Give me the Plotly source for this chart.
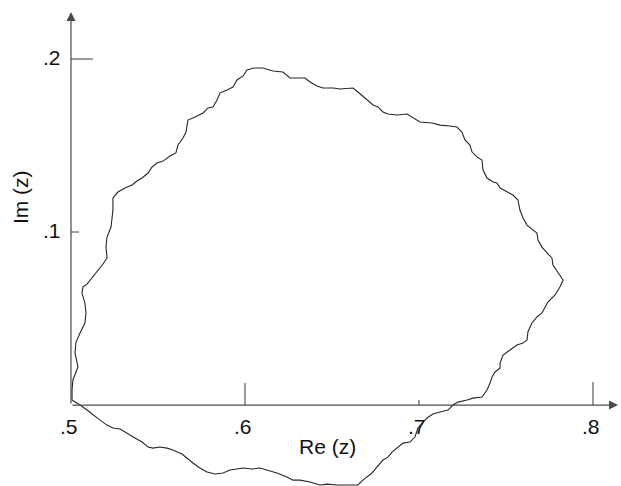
import plotly.graph_objects as go

# Boundary curve in the complex plane, traced counter-clockwise from z ~ 0.5
re_z = [
    0.5006, 0.5006, 0.5011, 0.5040, 0.5023, 0.5029, 0.5052, 0.5080, 0.5086, 0.5080,
    0.5063, 0.5069, 0.5092, 0.5121, 0.5155, 0.5184, 0.5207, 0.5201, 0.5207, 0.5230,
    0.5236, 0.5241, 0.5241, 0.5270, 0.5310, 0.5351, 0.5379, 0.5408, 0.5443, 0.5466,
    0.5494, 0.5529, 0.5569, 0.5603, 0.5615, 0.5644, 0.5661, 0.5672, 0.5713, 0.5759,
    0.5787, 0.5816, 0.5839, 0.5856, 0.5897, 0.5931, 0.5954, 0.5989, 0.6011, 0.6052,
    0.6103, 0.6161, 0.6218, 0.6259, 0.6299, 0.6345, 0.6374, 0.6414, 0.6448, 0.6506,
    0.6546, 0.6621, 0.6649, 0.6690, 0.6736, 0.6764, 0.6793, 0.6822, 0.6874, 0.6931,
    0.6966, 0.7006, 0.7075, 0.7121, 0.7178, 0.7218, 0.7247, 0.7264, 0.7293, 0.7305,
    0.7333, 0.7362, 0.7368, 0.7391, 0.7425, 0.7448, 0.7466, 0.7506, 0.7540, 0.7569,
    0.7580, 0.7598, 0.7621, 0.7655, 0.7678, 0.7684, 0.7707, 0.7736, 0.7764, 0.7770,
    0.7799, 0.7828, 0.7810, 0.7782, 0.7741, 0.7724, 0.7707, 0.7678, 0.7649, 0.7626,
    0.7621, 0.7598, 0.7563, 0.7523, 0.7483, 0.7466, 0.7466, 0.7437, 0.7420, 0.7408,
    0.7391, 0.7362, 0.7310, 0.7276, 0.7224, 0.7195, 0.7167, 0.7121, 0.7080, 0.7046,
    0.7023, 0.6994, 0.6977, 0.6948, 0.6908, 0.6874, 0.6845, 0.6822, 0.6793, 0.6759,
    0.6730, 0.6678, 0.6649, 0.6603, 0.6529, 0.6471, 0.6431, 0.6374, 0.6316, 0.6276,
    0.6241, 0.6184, 0.6126, 0.6086, 0.6040, 0.5989, 0.5954, 0.5914, 0.5874, 0.5828,
    0.5782, 0.5741, 0.5701, 0.5667, 0.5638, 0.5586, 0.5552, 0.5511, 0.5471, 0.5443,
    0.5408, 0.5368, 0.5322, 0.5282, 0.5241, 0.5207, 0.5167, 0.5126, 0.5092, 0.5052,
    0.5006,
]
im_z = [
    0.0029, 0.0087, 0.0145, 0.0220, 0.0301, 0.0364, 0.0416, 0.0474, 0.0532, 0.0590,
    0.0647, 0.0682, 0.0699, 0.0734, 0.0780, 0.0815, 0.0850, 0.0913, 0.0971, 0.1029,
    0.1081, 0.1127, 0.1197, 0.1231, 0.1254, 0.1272, 0.1295, 0.1312, 0.1341, 0.1376,
    0.1399, 0.1410, 0.1439, 0.1457, 0.1503, 0.1543, 0.1578, 0.1647, 0.1665, 0.1688,
    0.1717, 0.1723, 0.1763, 0.1803, 0.1821, 0.1838, 0.1879, 0.1902, 0.1936, 0.1948,
    0.1948, 0.1931, 0.1925, 0.1890, 0.1890, 0.1890, 0.1867, 0.1844, 0.1832, 0.1832,
    0.1827, 0.1832, 0.1809, 0.1775, 0.1734, 0.1723, 0.1694, 0.1682, 0.1676, 0.1682,
    0.1659, 0.1636, 0.1630, 0.1618, 0.1613, 0.1607, 0.1578, 0.1532, 0.1503, 0.1462,
    0.1434, 0.1416, 0.1358, 0.1312, 0.1289, 0.1283, 0.1254, 0.1231, 0.1214, 0.1185,
    0.1127, 0.1081, 0.1040, 0.1012, 0.0994, 0.0954, 0.0913, 0.0879, 0.0850, 0.0809,
    0.0763, 0.0723, 0.0682, 0.0636, 0.0595, 0.0561, 0.0532, 0.0509, 0.0474, 0.0422,
    0.0376, 0.0358, 0.0347, 0.0318, 0.0289, 0.0243, 0.0214, 0.0191, 0.0162, 0.0127,
    0.0087, 0.0046, 0.0040, 0.0029, 0.0017, 0.0000, -0.0029, -0.0040, -0.0052, -0.0075,
    -0.0098, -0.0133, -0.0185, -0.0214, -0.0220, -0.0249, -0.0272, -0.0301, -0.0318, -0.0358,
    -0.0393, -0.0434, -0.0462, -0.0462, -0.0462, -0.0457, -0.0462, -0.0445, -0.0434, -0.0434,
    -0.0416, -0.0393, -0.0376, -0.0364, -0.0370, -0.0364, -0.0370, -0.0376, -0.0393, -0.0399,
    -0.0387, -0.0364, -0.0335, -0.0306, -0.0283, -0.0260, -0.0249, -0.0243, -0.0249, -0.0243,
    -0.0214, -0.0191, -0.0162, -0.0139, -0.0133, -0.0116, -0.0087, -0.0058, -0.0029, 0.0000,
    0.0029,
]

# Axis ticks and their labels
x_ticks = [0.5, 0.6, 0.7, 0.8]
x_tick_labels = [".5", ".6", ".7", ".8"]
y_ticks = [0.1, 0.2]
y_tick_labels = [".1", ".2"]

# Axis extents (ends of the arrows)
x_axis_end = 0.8144
y_axis_end = 0.2272

FONT = "Liberation Sans, Arial, Helvetica, sans-serif"
INK = "#262626"
AXIS_INK = "#4a4a4a"

# tick mark lengths in pixels (long at .6/.8/.2, short at .7/.1)
x_tick_px = {0.5: 0, 0.6: 22, 0.7: 5, 0.8: 23}
y_tick_px = {0.1: 8, 0.2: 22}

fig = go.Figure()
fig.add_trace(go.Scatter(
    x=re_z, y=im_z, mode="lines",
    line=dict(color=INK, width=1.1),
    hoverinfo="skip", showlegend=False, cliponaxis=False,
))

shapes = []
for t in x_ticks:
    if x_tick_px[t] > 0:
        shapes.append(dict(type="line", xref="x", yref="y", ysizemode="pixel",
                           yanchor=0, x0=t, x1=t, y0=0, y1=x_tick_px[t],
                           line=dict(color=AXIS_INK, width=1.1)))
for t in y_ticks:
    shapes.append(dict(type="line", xref="x", yref="y", xsizemode="pixel",
                       xanchor=0.5, y0=t, y1=t, x0=0, x1=y_tick_px[t],
                       line=dict(color=AXIS_INK, width=1.1)))

annotations = [
    # x axis with arrow
    dict(x=x_axis_end, y=0, ax=0.5, ay=0, xref="x", yref="y", axref="x", ayref="y",
         text="", showarrow=True, arrowhead=2, arrowsize=1.5, arrowwidth=1.2,
         arrowcolor=AXIS_INK, standoff=0, startstandoff=0),
    # y axis with arrow
    dict(x=0.5, y=y_axis_end, ax=0.5, ay=0, xref="x", yref="y", axref="x", ayref="y",
         text="", showarrow=True, arrowhead=2, arrowsize=1.5, arrowwidth=1.2,
         arrowcolor=AXIS_INK, standoff=0, startstandoff=0),
]
for t, lab in zip(x_ticks, x_tick_labels):
    annotations.append(dict(x=t, y=0, xref="x", yref="y", text=lab, showarrow=False,
                            xanchor="center", yanchor="middle", xshift=-2, yshift=-21,
                            font=dict(family=FONT, size=21, color="#111")))
for t, lab in zip(y_ticks, y_tick_labels):
    annotations.append(dict(x=0.5, y=t, xref="x", yref="y", text=lab, showarrow=False,
                            xanchor="right", yanchor="middle", xshift=-8, yshift=2,
                            font=dict(family=FONT, size=21, color="#111")))
annotations.append(dict(x=0.6475, y=0, xref="x", yref="y", text="Re (z)", showarrow=False,
                        xanchor="center", yanchor="middle", yshift=-41,
                        font=dict(family=FONT, size=21, color="#111")))
annotations.append(dict(x=0.5, y=0.1202, xref="x", yref="y", text="Im (z)", showarrow=False,
                        textangle=-90, xanchor="center", yanchor="middle", xshift=-51,
                        font=dict(family=FONT, size=21, color="#111")))

fig.update_layout(
    width=621, height=486,
    margin=dict(l=0, r=0, t=0, b=0),
    paper_bgcolor="white", plot_bgcolor="white",
    xaxis=dict(range=[0.4592, 0.8161], visible=False, fixedrange=True),
    yaxis=dict(range=[-0.0468, 0.2341], visible=False, fixedrange=True),
    shapes=shapes, annotations=annotations,
    showlegend=False,
)

fig.write_html("out.html")
